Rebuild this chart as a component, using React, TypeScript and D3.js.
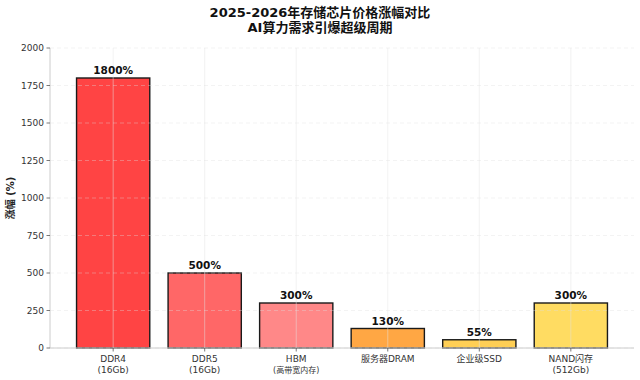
import React from "react";
import * as d3 from "d3";

const categories = ["DDR4\n(16Gb)", "DDR5\n(16Gb)", "HBM\n(高带宽内存)", "服务器DRAM", "企业级SSD", "NAND闪存\n(512Gb)"];
const values = [1800, 500, 300, 130, 55, 300];
const colors = ["#ff4444", "#ff6767", "#ff8888", "#ffa744", "#ffcf55", "#ffdc62"];
const yTicks = [0, 250, 500, 750, 1000, 1250, 1500, 1750, 2000];
const titleLines = ["2025-2026年存储芯片价格涨幅对比", "AI算力需求引爆超级周期"];
const yLabel = "涨幅 (%)";

const W = 640, H = 380;
const m = { left: 50, right: 6, top: 48, bottom: 32 };
const font = "'DejaVu Sans', 'Noto Sans CJK SC', sans-serif";

export default function App() {
  const x = d3.scaleLinear().domain([-0.69, 5.69]).range([m.left, W - m.right]);
  const y = d3.scaleLinear().domain([0, 2000]).range([H - m.bottom, m.top]);
  const bw = x(0.4) - x(-0.4);
  return (
    <svg width={W} height={H} style={{ position: "absolute", left: 0, top: 0, background: "#fff" }} fontFamily={font}>
      <rect width={W} height={H} fill="#fff" />
      {titleLines.map((t, i) => (
        <text key={i} x={320} y={17 + i * 15} textAnchor="middle" fontSize={13} fontWeight="bold" fill="#111">{t}</text>
      ))}
      {values.map((v, i) => (
        <rect key={i} x={x(i) - bw / 2} y={y(v)} width={bw} height={y(0) - y(v)} fill={colors[i]} stroke="#1a1a1a" strokeWidth={1.4} />
      ))}
      {yTicks.map((t) => (
        <line key={t} x1={m.left} x2={W - m.right} y1={y(t)} y2={y(t)} stroke="#ddd" strokeOpacity={0.45} strokeDasharray="4,3" strokeWidth={0.8} />
      ))}
      {categories.map((_, i) => (
        <line key={i} x1={x(i)} x2={x(i)} y1={m.top} y2={y(0)} stroke="#e4e4e4" strokeOpacity={0.6} strokeWidth={0.8} />
      ))}
      <line x1={m.left} x2={m.left} y1={m.top} y2={y(0)} stroke="#ccc" strokeWidth={1} />
      <line x1={m.left} x2={W - m.right} y1={y(0)} y2={y(0)} stroke="#ccc" strokeWidth={1} />
      {yTicks.map((t) => (
        <g key={t}>
          <line x1={m.left - 3.5} x2={m.left} y1={y(t)} y2={y(t)} stroke="#555" strokeWidth={0.8} />
          <text x={m.left - 6} y={y(t)} dy="0.35em" textAnchor="end" fontSize={9} fill="#333">{t}</text>
        </g>
      ))}
      {categories.map((c, i) => (
        <g key={i}>
          <line x1={x(i)} x2={x(i)} y1={y(0)} y2={y(0) + 3.5} stroke="#555" strokeWidth={0.8} />
          {c.split("\n").map((l, j) => (
            <text key={j} x={x(i)} y={y(0) + 14 + j * 10.5} textAnchor="middle" fontSize={l.startsWith("(") && /[\u4e00-\u9fff]/.test(l) ? 8 : 9} fill="#333">{l}</text>
          ))}
        </g>
      ))}
      {values.map((v, i) => (
        <text key={i} x={x(i)} y={y(v) - 4} textAnchor="middle" fontSize={10.5} fontWeight="bold" fill="#111">{v}%</text>
      ))}
      <text transform={`translate(14,${(m.top + y(0)) / 2}) rotate(-90)`} textAnchor="middle" fontSize={10} fontWeight="bold" fill="#222">{yLabel}</text>
    </svg>
  );
}
